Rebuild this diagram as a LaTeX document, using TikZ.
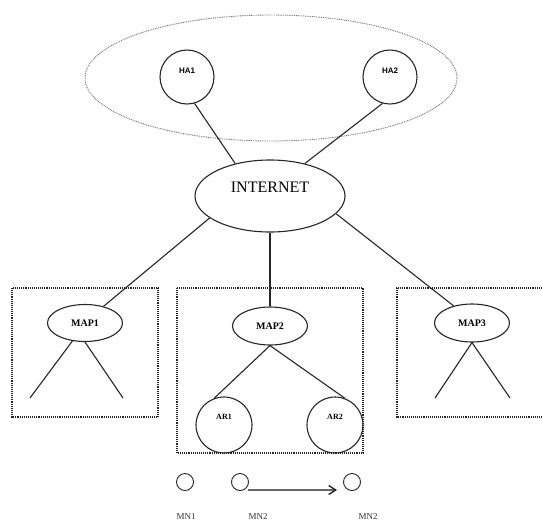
\documentclass[tikz,border=0pt]{standalone}
\usepackage{fontspec}
\setmainfont{Liberation Serif}
\newfontfamily\hafont{Liberation Sans}
\usetikzlibrary{shapes.geometric,arrows.meta}
\tikzset{
  conn/.style={line width=1.1pt, draw=black!85},
  circnode/.style={circle, draw=black!85, line width=1.1pt, inner sep=0pt},
  ellnode/.style={ellipse, draw=black!85, line width=1.1pt, inner sep=0pt},
  dotbox/.style={draw=black!85, line width=1.1pt, dash pattern=on 1.1pt off 1pt},
  dotell/.style={draw=black!55, line width=0.9pt, dash pattern=on 0.9pt off 0.9pt},
  halbl/.style={font=\hafont\bfseries\fontsize{8}{9}\selectfont},
  maplbl/.style={font=\bfseries\fontsize{10}{11}\selectfont},
  arlbl/.style={font=\bfseries\fontsize{8}{9}\selectfont},
  mnlbl/.style={font=\fontsize{9}{10}\selectfont, text=black!80},
  mncirc/.style={circle, draw=black!85, line width=0.9pt, minimum size=17pt, inner sep=0pt},
  movearrow/.style={draw=black!60, line width=1.8pt, -{Straight Barb[length=7pt,width=9pt,line width=1.4pt,color=black!85]}}
}
\begin{document}
\begin{tikzpicture}[x=1pt,y=-1pt]
\useasboundingbox (0,0) rectangle (543,523);
% home network ellipse
\draw[dotell] (271,78) ellipse [x radius=186, y radius=63];
\node[circnode, minimum size=54pt, label={[halbl, yshift=6pt]center:HA1}] (ha1) at (187,77) {};
\node[circnode, minimum size=54pt, label={[halbl, yshift=6pt]center:HA2}] (ha2) at (390,77) {};
% internet
\node[ellnode, minimum width=150pt, minimum height=72pt] (inet) at (270,196) {};
\node[font=\fontsize{16}{18}\selectfont] (inetlbl) at (270,187) {INTERNET};
\draw[conn] (ha1.286) -- (inet.137);
\draw[conn] (ha2.254) -- (inet.43);
% domain boxes
\draw[dotbox] (12,288) rectangle (158,417);
\draw[dotbox] (177,288) rectangle (363,453);
\draw[dotbox] (544,288) -- (397,288) -- (397,417) -- (544,417);
% MAPs
\node[ellnode, minimum width=75pt, minimum height=37pt, maplbl] (map1) at (85,323) {MAP1};
\node[ellnode, minimum width=75pt, minimum height=38pt, maplbl] (map2) at (270,326) {MAP2};
\node[ellnode, minimum width=75pt, minimum height=38pt, maplbl] (map3) at (472,323) {MAP3};
\draw[conn] (inet.200) -- (map1.42);
\draw[conn] (inet.south) -- (map2.north);
\draw[conn] (inet.-15) -- (map3.137);
% MAP1 branches
\coordinate (m1l) at (30,398);
\coordinate (m1r) at (123,398);
\draw[conn] (map1.235) -- (m1l);
\draw[conn] (map1.south) -- (m1r);
% MAP3 branches
\coordinate (m3l) at (435,398);
\coordinate (m3r) at (510,398);
\draw[conn] (map3.south) -- (m3l);
\draw[conn] (map3.south) -- (m3r);
% ARs
\node[circnode, minimum size=56pt, label={[arlbl, yshift=8pt]center:AR1}] (ar1) at (224,425) {};
\node[circnode, minimum size=56pt, label={[arlbl, yshift=8pt]center:AR2}] (ar2) at (335,425) {};
\draw[conn] (map2.south) -- (ar1.110);
\draw[conn] (map2.south) -- (ar2.70);
% mobile nodes
\node[mncirc] (mn1) at (185,482) {};
\node[mncirc] (mn2) at (240,482) {};
\node[mncirc] (mn3) at (352,482) {};
\coordinate (arrend) at (337,490);
\draw[movearrow] (mn2.-30 |- arrend) -- (arrend);
\node[mnlbl, anchor=base] (mn1l) at (186,519) {MN1};
\node[mnlbl, anchor=base] (mn2l) at (258,519) {MN2};
\node[mnlbl, anchor=base] (mn3l) at (368,519) {MN2};
\end{tikzpicture}
\end{document}
